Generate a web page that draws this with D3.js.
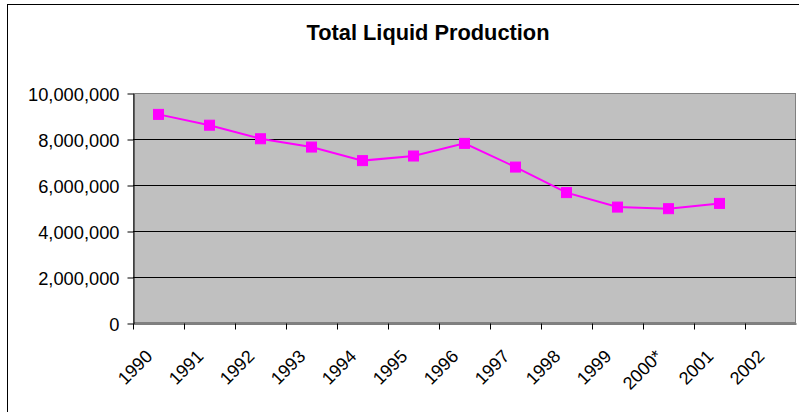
<!DOCTYPE html>
<html>
<head>
<meta charset="utf-8">
<script src="https://cdn.jsdelivr.net/npm/d3@7"></script>
<style>
  body { margin: 0; background: #fff; }
  svg { display: block; font-family: "Liberation Sans", Arial, sans-serif; }
</style>
</head>
<body>
<script>
// chart data
const years = ["1990", "1991", "1992", "1993", "1994", "1995", "1996", "1997", "1998", "1999", "2000*", "2001", "2002"];
const production = [9070000, 8600000, 8010000, 7650000, 7060000, 7260000, 7810000, 6780000, 5670000, 5040000, 4970000, 5200000, null];
const yTicks = [0, 2000000, 4000000, 6000000, 8000000, 10000000];
const title = "Total Liquid Production";

const width = 799, height = 412;
const plot = { left: 133, right: 796, top: 93, bottom: 323 };

const svg = d3.select("body").append("svg")
    .attr("width", width)
    .attr("height", height);

// outer chart border (right/bottom fall outside the picture)
svg.append("rect")
    .attr("x", 7.5).attr("y", 4.5)
    .attr("width", 800).attr("height", 420)
    .attr("fill", "#fff")
    .attr("stroke", "#000")
    .attr("stroke-width", 1);

svg.append("text")
    .attr("x", 428).attr("y", 39.5)
    .attr("text-anchor", "middle")
    .attr("font-size", "21.8px")
    .attr("font-weight", "bold")
    .text(title);

var x = d3.scaleBand()
    .domain(years)
    .range([plot.left, plot.right])
    .padding(0);

var y = d3.scaleLinear()
    .domain([0, 10000000])
    .range([plot.bottom, plot.top]);

// plot area
svg.append("rect")
    .attr("x", plot.left + 0.5).attr("y", plot.top + 0.5)
    .attr("width", plot.right - plot.left - 1)
    .attr("height", plot.bottom - plot.top - 1)
    .attr("fill", "#c0c0c0")
    .attr("stroke", "#808080")
    .attr("stroke-width", 1);

// gridlines
svg.append("g")
    .selectAll("line")
    .data(yTicks.filter(d => d > 0 && d < 10000000))
    .join("line")
    .attr("x1", plot.left).attr("x2", plot.right)
    .attr("y1", d => Math.round(y(d)) + 0.5)
    .attr("y2", d => Math.round(y(d)) + 0.5)
    .attr("stroke", "#000")
    .attr("stroke-width", 1);

// y axis
var yAxis = svg.append("g")
    .attr("transform", "translate(" + (plot.left + 0.5) + ",0.5)")
    .call(d3.axisLeft(y)
        .tickValues(yTicks)
        .tickFormat(d3.format(","))
        .tickSize(6)
        .tickSizeOuter(0)
        .tickPadding(8));
yAxis.select(".domain").attr("stroke", "#000");
yAxis.selectAll(".tick line").attr("stroke", "#000");
yAxis.selectAll(".tick text")
    .attr("font-size", "18.3px")
    .attr("font-family", "Liberation Sans, Arial, sans-serif")
    .attr("fill", "#000")
    .attr("dy", "0.36em");

// x axis: ticks between categories
var xAxis = svg.append("g")
    .attr("transform", "translate(0," + (plot.bottom + 0.5) + ")")
    .call(d3.axisBottom(x).tickSize(6).tickSizeOuter(0));
xAxis.select(".domain").attr("stroke", "#000");
xAxis.selectAll(".tick line")
    .attr("stroke", "#000")
    .attr("x1", -x.bandwidth() / 2 + 0.5)
    .attr("x2", -x.bandwidth() / 2 + 0.5);
xAxis.selectAll(".tick text")
    .attr("font-size", "18px")
    .attr("font-family", "Liberation Sans, Arial, sans-serif")
    .attr("fill", "#000")
    .attr("text-anchor", "end")
    .attr("y", 0)
    .attr("dy", 0)
    .attr("transform", "translate(-5,34) rotate(-45)");

// series
var pts = years.map((d, i) => ({ year: d, value: production[i] }))
    .filter(d => d.value != null);

var line = d3.line()
    .x(d => x(d.year) + x.bandwidth() / 2)
    .y(d => y(d.value));

svg.append("path")
    .datum(pts)
    .attr("d", line)
    .attr("fill", "none")
    .attr("stroke", "#ff00ff")
    .attr("stroke-width", 2);

svg.append("g")
    .selectAll("rect")
    .data(pts)
    .join("rect")
    .attr("x", d => x(d.year) + x.bandwidth() / 2 - 5)
    .attr("y", d => y(d.value) - 5)
    .attr("width", 10)
    .attr("height", 10)
    .attr("fill", "#ff00ff")
    .attr("stroke", "#ff00ff")
    .attr("stroke-width", 1);
</script>
</body>
</html>
